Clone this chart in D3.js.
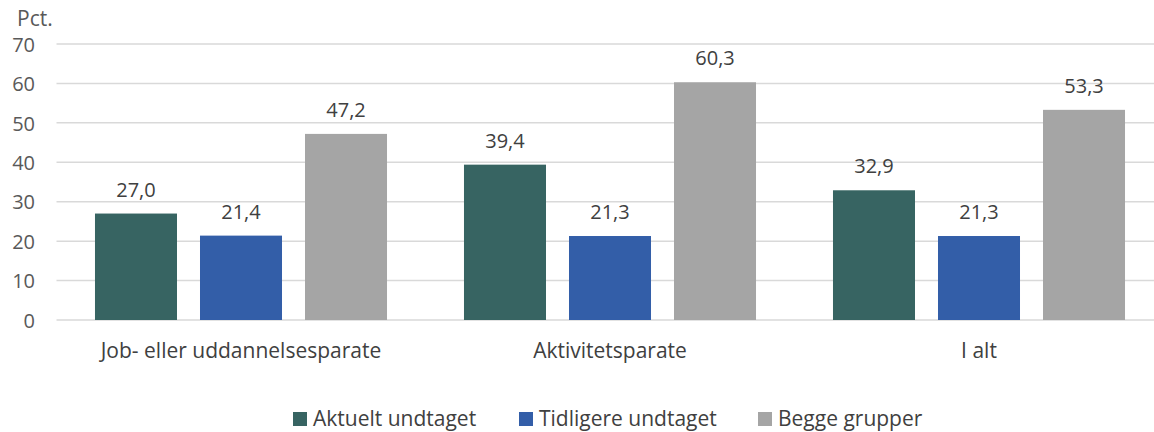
<!DOCTYPE html>
<html><head><meta charset="utf-8">
<script src="https://cdn.jsdelivr.net/npm/d3@7"></script>
<style>body{margin:0;background:#fff;}svg{display:block;}</style>
</head><body>
<svg id="c" width="1154" height="432"></svg>
<script>
const categories = ["Job- eller uddannelsesparate", "Aktivitetsparate", "I alt"];
const seriesNames = ["Aktuelt undtaget", "Tidligere undtaget", "Begge grupper"];
const aktuelt = [27.0, 39.4, 32.9];
const tidligere = [21.4, 21.3, 21.3];
const begge = [47.2, 60.3, 53.3];
const yTicks = [0, 10, 20, 30, 40, 50, 60, 70];
const colors = ["#376462", "#335EA8", "#A5A5A5"];
const seriesValues = [aktuelt, tidligere, begge];

const svg = d3.select("#c");
const font = "'Open Sans', sans-serif";
const fsNum = 20, fsText = 21;
const W = 1154, H = 432;
const plotL = 56.5, plotR = 1163.5, plotT = 44, plotB = 320;
const x0 = d3.scaleBand().domain(categories).range([plotL, plotR]).padding(0);
const x1 = d3.scaleBand().domain(seriesNames).range([0, x0.bandwidth()]).paddingInner(0.219).paddingOuter(0.3665);
const y = d3.scaleLinear().domain([0, 70]).range([plotB, plotT]);

// gridlines
svg.append("g").selectAll("line").data(yTicks).join("line")
  .attr("x1", plotL).attr("x2", W)
  .attr("y1", d => y(d)).attr("y2", d => y(d))
  .attr("stroke", "#d9d9d9").attr("stroke-width", 1.5);

// y axis labels
const yAxis = d3.axisLeft(y).tickValues(yTicks).tickSize(0).tickPadding(0).tickFormat(d3.format("d"));
const ya = svg.append("g").attr("transform", `translate(35,0)`).call(yAxis);
ya.select(".domain").remove();
ya.selectAll("text").attr("font-family", font).attr("font-size", 20).attr("fill", "#595959").attr("dy", "0.36em");

svg.append("text").attr("x", 17).attr("y", 26).text("Pct.")
  .attr("font-family", font).attr("font-size", 21).attr("fill", "#595959");

const fmt = v => d3.format(".1f")(v).replace(".", ",");

const groups = svg.append("g").selectAll("g").data(categories).join("g")
  .attr("transform", d => `translate(${x0(d)},0)`);

groups.each(function(cat, ci) {
  const g = d3.select(this);
  seriesNames.forEach((s, si) => {
    const v = seriesValues[si][ci];
    g.append("rect").attr("x", x1(s)).attr("width", x1.bandwidth())
      .attr("y", y(v)).attr("height", y(0) - y(v)).attr("fill", colors[si]);
    g.append("text").attr("x", x1(s) + x1.bandwidth() / 2).attr("y", y(v) - 17)
      .attr("text-anchor", "middle").attr("font-family", font).attr("font-size", fsNum)
      .attr("fill", "#404040").text(fmt(v));
  });
});

// x labels
svg.append("g").selectAll("text").data(categories).join("text")
  .attr("x", d => x0(d) + x0.bandwidth() / 2).attr("y", 358)
  .attr("text-anchor", "middle").attr("font-family", font).attr("font-size", fsText)
  .attr("fill", "#404040").text(d => d);

// legend
const legendX = [293, 519, 758];
const lg = svg.append("g").selectAll("g").data(seriesNames).join("g")
  .attr("transform", (d, i) => `translate(${legendX[i]},0)`);
lg.append("rect").attr("x", 0).attr("y", 412).attr("width", 14).attr("height", 14).attr("fill", (d, i) => colors[i]);
lg.append("text").attr("x", 20).attr("y", 426).attr("font-family", font).attr("font-size", fsText)
  .attr("fill", "#404040").text(d => d);
</script>
</body></html>
